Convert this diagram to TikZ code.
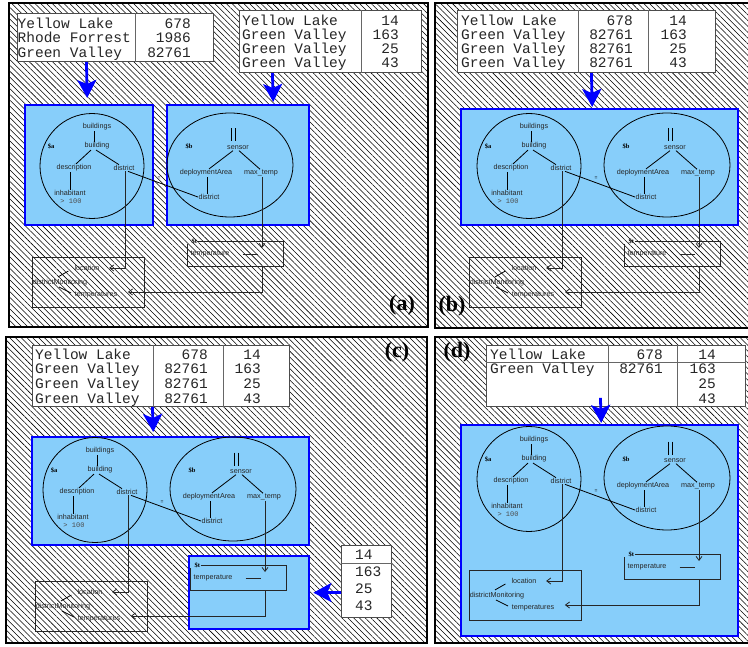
\documentclass[tikz,border=0pt]{standalone}
\usepackage{fontspec}
\setsansfont{Liberation Sans}
\setmonofont{Liberation Mono}
\newfontfamily\labelserif{Liberation Serif}
\usetikzlibrary{patterns.meta,arrows.meta}
\definecolor{skyb}{RGB}{135,206,250}
\definecolor{pblue}{RGB}{0,0,255}
\tikzset{
  panelbg/.style={draw=black, line width=2.4pt, pattern={Lines[angle=-45,distance=4.1pt,line width=0.55pt]}, pattern color=black},
  bluebox/.style={draw=pblue, fill=skyb, line width=2.4pt, inner sep=0pt, anchor=north west},
  tablebox/.style={draw=black!70, fill=white, line width=0.9pt, inner sep=0pt, anchor=north west},
  trule/.style={draw=black!60, line width=0.9pt},
  cell/.style={font=\fontsize{14.5}{14.5}\ttfamily\selectfont, inner sep=0pt, text=black!85},
  lcell/.style={cell, anchor=base west},
  rcell/.style={cell, anchor=base east},
  bigarrow/.style={draw=pblue, line width=2.8pt, -{Stealth[length=18pt,width=19pt,inset=4pt]}},
  tlabel/.style={font=\sffamily\fontsize{7.2}{8}\selectfont, inner sep=0.5pt, text=black!85},
  var/.style={font=\labelserif\bfseries\fontsize{6.5}{7}\selectfont, inner sep=0.5pt},
  cond/.style={font=\ttfamily\fontsize{7}{8}\selectfont, inner sep=0.5pt, text=black!70},
  eqs/.style={font=\sffamily\fontsize{5}{6}\selectfont, inner sep=0pt},
  tedge/.style={draw=black, line width=0.8pt},
  conn/.style={draw=black!85, line width=0.8pt},
  conna/.style={conn, -{Straight Barb[length=4pt,width=6pt]}},
  plabel/.style={font=\labelserif\bfseries\fontsize{22}{22}\selectfont, inner sep=0pt},
  treepic/.pic={
    \draw[tedge] (0,0) ellipse [x radius=52pt, y radius=52.5pt];
    \draw[tedge] (138,-1) ellipse [x radius=63pt, y radius=52pt];
    % tree a
    \node[var] (-sa) at (-41,-20) {\$a};
    \node[tlabel] (-bs) at (5,-39) {buildings};
    \node[tlabel] (-b) at (5,-20) {building};
    \node[tlabel] (-desc) at (-18,2) {description};
    \node[tlabel] (-da) at (32,2) {district};
    \node[tlabel] (-inh) at (-22,27) {inhabitant};
    \node[cond] (-gt) at (-21,35) {> 100};
    \draw[tedge] ([xshift=-3pt]-bs.south) -- ([xshift=-3pt]-b.north);
    \draw[tedge] ([xshift=-6pt]-b.south) -- ([xshift=2pt]-desc.north);
    \draw[tedge] ([xshift=-1pt]-b.south) -- ([xshift=-5pt]-da.north);
    \draw[tedge] ([xshift=-4pt]-desc.south) -- (-inh.north);
    % tree b
    \node[var] (-sb) at (97,-20) {\$b};
    \coordinate (-par) at (141,-31);
    \draw[tedge] ([xshift=-2pt,yshift=6.5pt]-par) -- ([xshift=-2pt,yshift=-6.5pt]-par);
    \draw[tedge] ([xshift=2pt,yshift=6.5pt]-par) -- ([xshift=2pt,yshift=-6.5pt]-par);
    \node[tlabel] (-sen) at (146,-18) {sensor};
    \node[tlabel] (-dep) at (114,7) {deploymentArea};
    \node[tlabel] (-mt) at (169,7) {max\_temp};
    \node[tlabel] (-db) at (117,31) {district};
    \draw[tedge] ([xshift=-5pt]-sen.south) -- ([xshift=3pt]-dep.north);
    \draw[tedge] ([xshift=1pt]-sen.south) -- ([xshift=-1pt]-mt.north);
    \draw[tedge] ([xshift=1pt]-dep.south) -- ([xshift=-2pt]-db.north);
    \draw[tedge] ([xshift=4pt]-da.south) -- (-db.west);
    \node[eqs] (-eq) at (67,12) {=};
    % result template $t
    \node[minimum width=95pt, minimum height=24pt, inner sep=0pt] (-tb) at (143.5,88) {};
    \node[var, anchor=west] (-st) at (99,75.5) {\$t};
    \draw[conn] (-st.east |- -tb.north) -- (-tb.north east) |- (-tb.south west) -- ([yshift=-2pt]-tb.north west);
    \node[tlabel] (-temp) at (118,88) {temperature};
    \draw[conn] ([xshift=12.5pt]-temp.east) -- ([xshift=27.5pt]-temp.east);
    % output template
    \node[draw=black!85, line width=0.8pt, minimum width=112pt, minimum height=50pt, inner sep=0pt] (-cb) at (-4,116) {};
    \node[tlabel] (-loc) at (-5,102) {location};
    \node[tlabel] (-dm) at (-32,117) {districtMonitoring};
    \node[tlabel] (-temps) at (4,129) {temperatures};
    \draw[tedge] ([xshift=-2pt,yshift=2pt]-dm.north) -- ([xshift=-5.5pt,yshift=-3pt]-loc.west);
    \draw[tedge] ([xshift=-1pt]-dm.south) -- ([xshift=-3pt,yshift=2pt]-temps.west);
    % connectors
    \coordinate (-ttip) at (170,82);
    \draw[conna] ([xshift=1pt]-mt.south) -- (-ttip);
    \draw[conna] ([xshift=1pt]-da.south) |- ([xshift=9pt]-loc.east);
    \draw[conna] (-tb.south -| -ttip) |- ([xshift=10pt,yshift=3pt]-temps.east);
  }
}
\begin{document}
\begin{tikzpicture}[x=1pt,y=-1pt]
\useasboundingbox (0,0) rectangle (748,647);
\clip (0,0) rectangle (748,647);
\fill[white] (0,0) rectangle (748,647);

% ================= panel (a)
\draw[panelbg] (9,3) rectangle (428,327);
\node[tablebox, minimum width=196pt, minimum height=48pt] (ta1) at (17,13) {};
\draw[trule] ([xshift=118pt]ta1.north west) -- ([xshift=118pt]ta1.south west);
\node[lcell] (ta1a) at (17.5,28.3) {Yellow Lake};
\node[rcell] (ta1b) at (191,28.3) {678};
\node[lcell] (ta1c) at (17.5,42.8) {Rhode Forrest};
\node[rcell] (ta1d) at (191,42.8) {1986};
\node[lcell] (ta1e) at (17.5,57.3) {Green Valley};
\node[rcell] (ta1f) at (191,57.3) {82761};

\node[tablebox, minimum width=182pt, minimum height=62pt] (ta2) at (239,10) {};
\draw[trule] ([xshift=122pt]ta2.north west) -- ([xshift=122pt]ta2.south west);
\node[lcell] (ta2a) at (242,25.2) {Yellow Lake};
\node[rcell] (ta2b) at (399,25.2) {14};
\node[lcell] (ta2c) at (242,39.4) {Green Valley};
\node[rcell] (ta2d) at (399,39.4) {163};
\node[lcell] (ta2e) at (242,53.6) {Green Valley};
\node[rcell] (ta2f) at (399,53.6) {25};
\node[lcell] (ta2g) at (242,67.8) {Green Valley};
\node[rcell] (ta2h) at (399,67.8) {43};

\node[bluebox, minimum width=128pt, minimum height=120pt] (bxa1) at (24,104) {};
\node[bluebox, minimum width=142pt, minimum height=120pt] (bxa2) at (166,104) {};
\pic (pa) at (92,166) {treepic};
\draw[bigarrow] ([xshift=-29pt]ta1.south) -- ([xshift=-2pt,yshift=6pt]bxa1.north);
\draw[bigarrow] ([xshift=-58pt]ta2.south) -- ([xshift=35pt,yshift=2pt]bxa2.north);
\node[plabel] (la) at (402,305) {(a)};

% ================= panel (b)
\draw[panelbg] (435,3) rectangle (760,328);
\node[tablebox, minimum width=258pt, minimum height=62pt] (tb) at (457,10) {};
\draw[trule] ([xshift=121pt]tb.north west) -- ([xshift=121pt]tb.south west);
\draw[trule] ([xshift=191pt]tb.north west) -- ([xshift=191pt]tb.south west);
\node[lcell] (tba) at (461,25.2) {Yellow Lake};
\node[rcell] (tbb) at (633,25.2) {678};
\node[rcell] (tbc) at (687,25.2) {14};
\node[lcell] (tbd) at (461,39.4) {Green Valley};
\node[rcell] (tbe) at (633,39.4) {82761};
\node[rcell] (tbf) at (687,39.4) {163};
\node[lcell] (tbg) at (461,53.6) {Green Valley};
\node[rcell] (tbh) at (633,53.6) {82761};
\node[rcell] (tbi) at (687,53.6) {25};
\node[lcell] (tbj) at (461,67.8) {Green Valley};
\node[rcell] (tbk) at (633,67.8) {82761};
\node[rcell] (tbl) at (687,67.8) {43};

\node[bluebox, minimum width=277pt, minimum height=116pt] (bxb) at (460,108) {};
\pic (pb) at (529,166) {treepic};
\draw[bigarrow] ([xshift=5pt]tb.south) -- ([xshift=-7.5pt,yshift=1pt]bxb.north);
\node[plabel] (lb) at (452,306) {(b)};

% ================= panel (c)
\draw[panelbg] (6,337) rectangle (427,643);
\node[tablebox, minimum width=257pt, minimum height=61pt] (tc) at (32,345) {};
\draw[trule] ([xshift=121pt]tc.north west) -- ([xshift=121pt]tc.south west);
\draw[trule] ([xshift=191pt]tc.north west) -- ([xshift=191pt]tc.south west);
\node[lcell] (tca) at (35,359.5) {Yellow Lake};
\node[rcell] (tcb) at (208,359.5) {678};
\node[rcell] (tcc) at (261,359.5) {14};
\node[lcell] (tcd) at (35,374) {Green Valley};
\node[rcell] (tce) at (208,374) {82761};
\node[rcell] (tcf) at (261,374) {163};
\node[lcell] (tcg) at (35,388.5) {Green Valley};
\node[rcell] (tch) at (208,388.5) {82761};
\node[rcell] (tci) at (261,388.5) {25};
\node[lcell] (tcj) at (35,403) {Green Valley};
\node[rcell] (tck) at (208,403) {82761};
\node[rcell] (tcl) at (261,403) {43};

\node[bluebox, minimum width=277pt, minimum height=108pt] (bxc1) at (31,436) {};
\node[bluebox, minimum width=120pt, minimum height=73pt] (bxc2) at (188,555) {};
\pic (pc) at (95,490) {treepic};
\draw[bigarrow] ([xshift=-8.5pt]tc.south) -- ([xshift=-17.5pt,yshift=4pt]bxc1.north);

\node[tablebox, minimum width=50pt, minimum height=72pt] (tcs) at (341,545) {};
\draw[trule] ([yshift=-18pt]tcs.north west) -- ([yshift=-18pt]tcs.north east);
\node[lcell] (tcsa) at (355,559.5) {14};
\node[lcell] (tcsb) at (355,576.5) {163};
\node[lcell] (tcsc) at (355,593.5) {25};
\node[lcell] (tcsd) at (355,610.5) {43};
\draw[bigarrow] ([yshift=-11pt]tcs.west) -- ([xshift=3pt]bxc2.east);
\node[plabel] (lc) at (397,352) {(c)};

% ================= panel (d)
\draw[panelbg] (435,337) rectangle (760,643);
\node[tablebox, minimum width=259pt, minimum height=61pt] (td) at (486,345) {};
\draw[trule] ([xshift=122pt]td.north west) -- ([xshift=122pt]td.south west);
\draw[trule] ([xshift=191pt]td.north west) -- ([xshift=191pt]td.south west);
\draw[trule] ([yshift=-17pt]td.north west) -- ([yshift=-17pt]td.north east);
\node[lcell] (tda) at (490,359.5) {Yellow Lake};
\node[rcell] (tdb) at (663,359.5) {678};
\node[rcell] (tdc) at (716,359.5) {14};
\node[lcell] (tdd) at (490,374) {Green Valley};
\node[rcell] (tde) at (663,374) {82761};
\node[rcell] (tdf) at (716,374) {163};
\node[rcell] (tdg) at (716,388.5) {25};
\node[rcell] (tdh) at (716,403) {43};

\node[bluebox, minimum width=277pt, minimum height=211pt] (bxd) at (460,424) {};
\pic (pd) at (529,479) {treepic};
\draw[bigarrow] ([xshift=-15.5pt,yshift=9pt]td.south) -- ([xshift=1.5pt,yshift=1pt]bxd.north);
\node[plabel] (ld) at (457,352) {(d)};
\end{tikzpicture}
\end{document}
